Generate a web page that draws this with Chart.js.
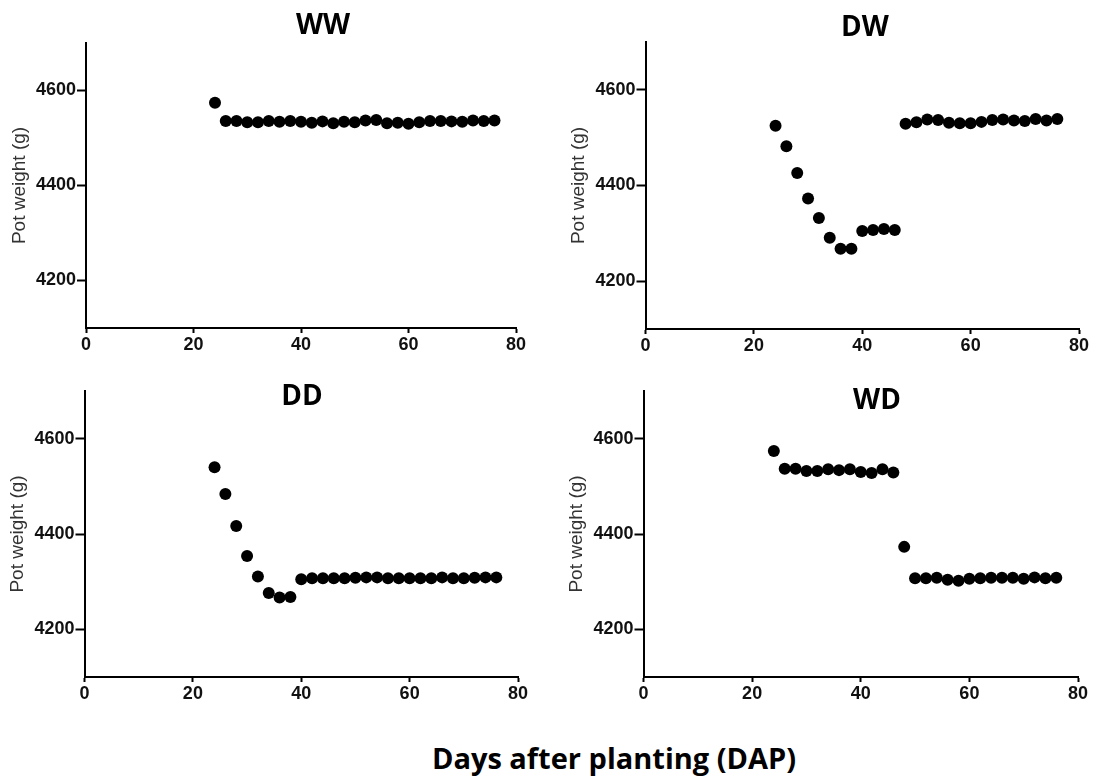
<!DOCTYPE html>
<html>
<head>
<meta charset="utf-8">
<script src="https://cdn.jsdelivr.net/npm/chart.js@4.4.1/dist/chart.umd.min.js"></script>
<style>
  body { margin: 0; background: #fff; width: 1097px; height: 782px; position: relative; overflow: hidden; }
  .panel { position: absolute; }
  .ttl { position: absolute; font-family: "Open Sans", sans-serif; font-weight: 700; font-size: 28px; color: #000;
         transform: translate(-50%, -50%); white-space: nowrap; line-height: 1; }
  #xlabel { font-size: 29px; }
</style>
</head>
<body>
<div class="panel" style="left:0;top:0;width:545px;height:365px"><canvas id="ww-chart" width="545" height="365"></canvas></div>
<div class="panel" style="left:550px;top:0;width:547px;height:365px"><canvas id="dw-chart" width="547" height="365"></canvas></div>
<div class="panel" style="left:0;top:365px;width:545px;height:345px"><canvas id="dd-chart" width="545" height="345"></canvas></div>
<div class="panel" style="left:550px;top:365px;width:547px;height:345px"><canvas id="wd-chart" width="547" height="345"></canvas></div>

<div class="ttl" style="left:323px;top:23px">WW</div>
<div class="ttl" style="left:865px;top:25px">DW</div>
<div class="ttl" style="left:302px;top:394px">DD</div>
<div class="ttl" style="left:877px;top:398px">WD</div>
<div class="ttl" id="xlabel" style="left:614px;top:757px">Days after planting (DAP)</div>

<script>
// days after planting (DAP)
const days = [24, 26, 28, 30, 32, 34, 36, 38, 40, 42, 44, 46, 48, 50, 52, 54, 56, 58, 60, 62, 64, 66, 68, 70, 72, 74, 76];

// pot weight (g) per treatment
const wwWeights = [4574, 4536, 4536, 4533, 4533, 4536, 4534, 4536, 4534, 4532, 4535, 4531, 4534, 4533,
                   4537, 4538, 4531, 4532, 4530, 4533, 4536, 4536, 4535, 4534, 4537, 4536, 4537];
const dwWeights = [4525, 4482, 4426, 4373, 4332, 4291, 4268, 4268, 4305, 4307, 4309, 4307, 4529, 4532,
                   4538, 4537, 4531, 4530, 4530, 4533, 4537, 4538, 4536, 4535, 4539, 4536, 4539];
const ddWeights = [4540, 4484, 4417, 4354, 4311, 4276, 4267, 4268, 4305, 4307, 4307, 4307, 4307, 4308,
                   4309, 4309, 4307, 4307, 4307, 4307, 4307, 4309, 4307, 4307, 4308, 4309, 4309];
const wdWeights = [4574, 4537, 4537, 4532, 4532, 4536, 4534, 4536, 4530, 4528, 4536, 4529, 4373, 4307,
                   4307, 4308, 4304, 4302, 4306, 4307, 4308, 4308, 4308, 4306, 4309, 4307, 4308];

const xTicks = [0, 20, 40, 60, 80];
const yTicks = [4200, 4400, 4600];

const tickFont = { family: "Liberation Sans", size: 18, weight: "bold" };

function createPanel(canvasId, values, box) {
    const ctx = document.getElementById(canvasId).getContext("2d");
    return new Chart(ctx, {
        type: 'scatter',
        data: {
            datasets: [{
                data: days.map((d, i) => ({ x: d, y: values[i] })),
                backgroundColor: '#000',
                borderWidth: 0,
                pointRadius: 6,
                pointHoverRadius: 6
            }]
        },
        options: {
            responsive: false,
            animation: false,
            events: [],
            layout: { padding: { left: 0, top: box.top, right: box.right, bottom: 0 } },
            plugins: { legend: { display: false }, tooltip: { enabled: false } },
            scales: {
                x: {
                    type: 'linear',
                    min: 0,
                    max: 80,
                    afterBuildTicks: s => { s.ticks = xTicks.map(v => ({ value: v })); },
                    afterFit: s => { s.height = box.xh; },
                    grid: { drawOnChartArea: false, tickLength: 5, tickWidth: 2, tickColor: '#000' },
                    border: { color: '#000', width: 2 },
                    ticks: { font: tickFont, color: '#111', padding: 1, maxRotation: 0, callback: v => String(v) }
                },
                y: {
                    min: 4100,
                    max: 4700,
                    afterBuildTicks: s => { s.ticks = yTicks.map(v => ({ value: v })); },
                    afterFit: s => { s.width = box.yw; },
                    grid: { drawOnChartArea: false, tickLength: 9, tickWidth: 2, tickColor: '#000' },
                    border: { color: '#000', width: 2 },
                    ticks: { font: tickFont, color: '#111', padding: 1, callback: v => String(v) },
                    title: {
                        display: true,
                        text: 'Pot weight (g)',
                        color: '#333',
                        font: { family: "Liberation Sans", size: 19 },
                        padding: { top: box.tp, bottom: 0 }
                    }
                }
            }
        }
    });
}

const wwChart = createPanel("ww-chart", wwWeights, { top: 43, right: 29, yw: 86, xh: 37, tp: 8.5 });
const dwChart = createPanel("dw-chart", dwWeights, { top: 42, right: 18, yw: 95.5, xh: 36, tp: 17.5 });
const ddChart = createPanel("dd-chart", ddWeights, { top: 26, right: 27, yw: 84.5, xh: 33, tp: 6.5 });
const wdChart = createPanel("wd-chart", wdWeights, { top: 26, right: 19, yw: 93.5, xh: 33, tp: 15.5 });
</script>
</body>
</html>
